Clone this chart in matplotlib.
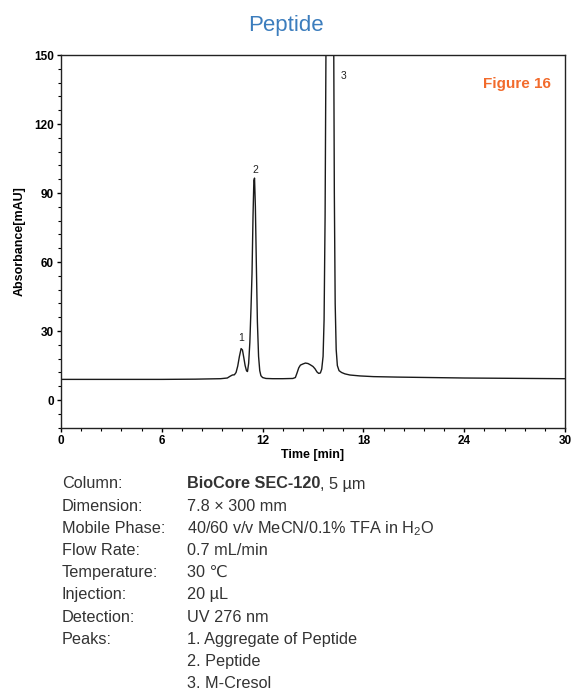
import matplotlib
matplotlib.use('Agg')
import matplotlib.pyplot as plt
from matplotlib.ticker import MultipleLocator

plt.rcParams['font.family'] = ['Liberation Sans', 'DejaVu Sans']
plt.rcParams['mathtext.default'] = 'regular'

# chromatogram trace (time in min, absorbance in mAU)
time_min = [0.1, 2, 4, 6, 8, 9.5, 9.9, 10.05, 10.2, 10.32, 10.42, 10.52, 10.62,
			10.72, 10.8, 10.88, 10.96, 11.04, 11.1, 11.17, 11.24, 11.31, 11.37,
			11.43, 11.48, 11.52, 11.57, 11.63, 11.69, 11.76, 11.83, 11.9, 12.0,
			12.2, 12.6, 13.2, 13.8, 13.95, 14.05, 14.15, 14.25, 14.4, 14.55,
			14.7, 14.85, 15.0, 15.12, 15.24, 15.34, 15.44, 15.52, 15.6, 15.66,
			15.72, 15.77, 15.83, 15.9, 16.0, 16.1, 16.17, 16.22, 16.27, 16.32,
			16.38, 16.45, 16.55, 16.7, 16.9, 17.2, 17.8, 18.6, 20, 22, 24, 26,
			28, 30]
absorbance = [9.0, 9.0, 9.0, 9.0, 9.1, 9.3, 9.6, 10.3, 10.9, 11.0, 12.0, 14.8,
			  19.0, 22.4, 21.8, 18.5, 15.0, 12.8, 12.4, 16.0, 25.0, 40.0, 55.0,
			  80.0, 95.5, 96.5, 84.0, 58.0, 34.0, 19.0, 12.8, 10.6, 9.8,
			  9.4, 9.3, 9.3, 9.4, 9.8, 11.8, 14.0, 15.2, 15.7, 16.1,
			  15.9, 15.3, 14.6, 13.6, 12.2, 11.6, 11.8, 13.5, 19.0, 35.0,
			  80.0, 150.0, 320, 620, 900, 620, 350, 180, 90, 42,
			  22, 15, 12.8, 12.0, 11.4, 10.9, 10.5, 10.2, 10.0, 9.8, 9.6, 9.5,
			  9.4, 9.3]

peak_ids = ['1', '2', '3']
peak_x = [10.7, 11.55, 16.8]
peak_y = [27, 100, 141]

info_keys = ['Column:', 'Dimension:', 'Mobile Phase:', 'Flow Rate:',
			 'Temperature:', 'Injection:', 'Detection:', 'Peaks:', '', '']
info_vals = ['BioCore SEC-120', '7.8 × 300 mm', '40/60 v/v MeCN/0.1% TFA in H$_2$O',
			 '0.7 mL/min', '30 ℃', '20 µL', 'UV 276 nm',
			 '1. Aggregate of Peptide', '2. Peptide', '3. M-Cresol']

W, H = 572, 692
fig = plt.figure(figsize=(W / 100, H / 100), dpi=100)
ax = fig.add_axes([61 / W, 1 - 427.7 / H, 504 / W, 372.7 / H])

ax.plot(time_min, absorbance, color='#1a1a1a', lw=1.0)

ax.set_xlim(0, 30)
ax.set_ylim(-12, 150)
ax.xaxis.set_major_locator(MultipleLocator(6))
ax.xaxis.set_minor_locator(MultipleLocator(1.2))
ax.yaxis.set_major_locator(MultipleLocator(30))
ax.yaxis.set_minor_locator(MultipleLocator(6))
ax.tick_params(which='major', length=3, width=1, labelsize=8.5, pad=2)
ax.tick_params(which='minor', length=2, width=0.8)
for lab in ax.get_xticklabels() + ax.get_yticklabels():
	lab.set_fontweight('bold')
for s in ax.spines.values():
	s.set_linewidth(1.0)
	s.set_color('#222222')

ax.set_xlabel('Time [min]', fontsize=9, fontweight='bold', labelpad=2)
ax.set_ylabel('Absorbance[mAU]', fontsize=9, fontweight='bold', labelpad=6)

for pid, px, py in zip(peak_ids, peak_x, peak_y):
	ax.text(px, py, pid, fontsize=7.5, ha='center', va='center', color='#222222')

ax.text(0.972, 0.922, 'Figure 16', transform=ax.transAxes, ha='right', va='center',
		fontsize=11, fontweight='bold', color='#f26b2c')

fig.text(0.5, 1 - 26 / H, 'Peptide', ha='center', va='center', fontsize=16,
		 color='#3c7dbd')

# method details below the chart
y0 = 484
dy = 22.2
for i, (k, v) in enumerate(zip(info_keys, info_vals)):
	yy = 1 - (y0 + i * dy) / H
	if k:
		fig.text(62 / W, yy, k, ha='left', va='center', fontsize=11.7, color='#333333')
	t = fig.text(187 / W, yy, v, ha='left', va='center', fontsize=11.7, color='#333333',
				 fontweight='bold' if i == 0 else 'normal')
	if i == 0:
		fig.add_artist(matplotlib.text.Annotation(', 5 µm', xy=(1, 0), xycoords=t,
						va='bottom', ha='left', fontsize=11.7, color='#333333'))

fig.savefig('out.png', dpi=100)
